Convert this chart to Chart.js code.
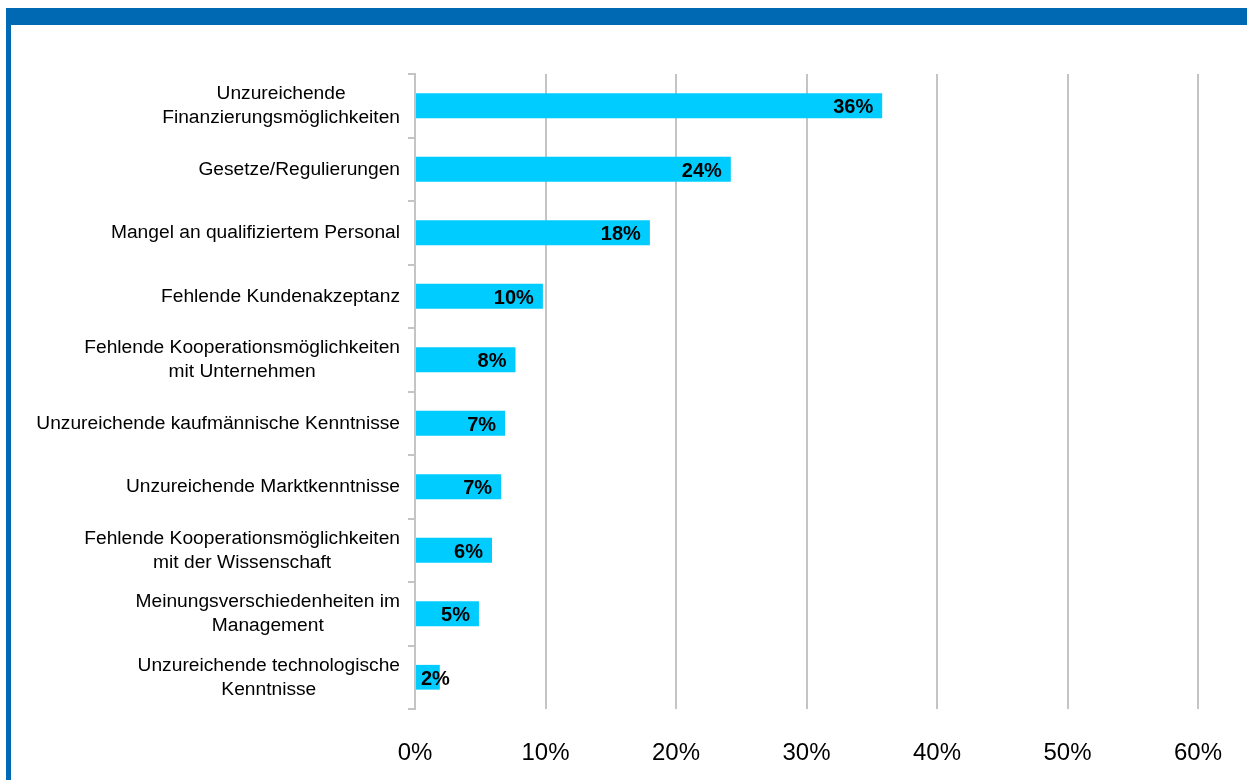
<!DOCTYPE html>
<html>
<head>
<meta charset="utf-8">
<script src="https://cdn.jsdelivr.net/npm/chart.js@4"></script>
<style>
  html, body { margin: 0; padding: 0; background: #fff; }
  #wrap { position: relative; width: 1247px; height: 780px; overflow: hidden; }
  #frameTop { position: absolute; left: 7px; top: 8px; width: 1240px; height: 17px; background: #0069b4; }
  #frameLeft { position: absolute; left: 6px; top: 8px; width: 5px; height: 772px; background: #0069b4; }
  canvas { position: absolute; left: 0; top: 0; }
</style>
</head>
<body>
<div id="wrap">
  <canvas id="grafico" width="1247" height="780"></canvas>
  <div id="frameTop"></div>
  <div id="frameLeft"></div>
</div>
<script>
const kategorien = [
    ['Unzureichende', 'Finanzierungsmöglichkeiten'],
    'Gesetze/Regulierungen',
    'Mangel an qualifiziertem Personal',
    'Fehlende Kundenakzeptanz',
    ['Fehlende Kooperationsmöglichkeiten', 'mit Unternehmen'],
    'Unzureichende kaufmännische Kenntnisse',
    'Unzureichende Marktkenntnisse',
    ['Fehlende Kooperationsmöglichkeiten', 'mit der Wissenschaft'],
    ['Meinungsverschiedenheiten im', 'Management'],
    ['Unzureichende technologische', 'Kenntnisse']
];
const anteile = [35.8, 24.2, 18.0, 9.8, 7.7, 6.9, 6.6, 5.9, 4.9, 1.9];
const achsenWerte = [0, 10, 20, 30, 40, 50, 60];

const GRAU = '#c4c4c4';
const SCHRIFT = '"Liberation Sans", Arial, sans-serif';

// Kategorienamen: mehrzeilig, zentriert, rechtsbündig am Block
const kategorieText = {
    id: 'kategorieText',
    afterDraw(chart) {
        const c = chart.ctx;
        const y = chart.scales.y;
        const rechts = y.right - 7 - 8;
        c.save();
        c.font = '19.2px ' + SCHRIFT;
        c.fillStyle = '#000';
        c.textAlign = 'center';
        c.textBaseline = 'middle';
        kategorien.forEach((lab, i) => {
            const zeilen = Array.isArray(lab) ? lab : [lab];
            const breite = Math.max(...zeilen.map(z => c.measureText(z).width));
            const cx = rechts - breite / 2;
            const mitte = y.getPixelForValue(i);
            const start = mitte - (zeilen.length - 1) * 24 / 2;
            zeilen.forEach((z, k) => c.fillText(z, cx, start + k * 24));
        });
        c.restore();
    }
};

const balkenBeschriftung = {
    id: 'balkenBeschriftung',
    afterDatasetsDraw(chart) {
        const c = chart.ctx;
        const meta = chart.getDatasetMeta(0);
        c.save();
        c.font = 'bold 20px ' + SCHRIFT;
        c.fillStyle = '#000';
        c.textBaseline = 'middle';
        c.textAlign = 'left';
        meta.data.forEach((bar, i) => {
            const text = Math.round(anteile[i]) + '%';
            const w = c.measureText(text).width;
            let x = bar.x - 9 - w;
            if (x < bar.base + 5) x = bar.base + 5;
            c.fillText(text, x, bar.y + 2);
        });
        c.restore();
    }
};

new Chart(document.getElementById('grafico'), {
    type: 'bar',
    data: {
        labels: kategorien,
        datasets: [{
            data: anteile,
            backgroundColor: '#00ccff',
            borderWidth: 0,
            categoryPercentage: 1,
            barPercentage: 0.39
        }]
    },
    options: {
        indexAxis: 'y',
        responsive: false,
        animation: false,
        layout: { padding: { top: 74, right: 49, left: 0, bottom: 0 } },
        plugins: { legend: { display: false }, tooltip: { enabled: false } },
        scales: {
            x: {
                min: 0,
                max: 60,
                afterBuildTicks: scale => {
                    scale.ticks = achsenWerte.map(v => ({ value: v }));
                },
                afterFit: scale => {
                    scale.height = 71;
                    scale.paddingRight = 0;
                    scale.paddingLeft = 0;
                },
                grid: { color: GRAU, lineWidth: 2, drawTicks: false },
                border: { display: false },
                ticks: {
                    padding: 30,
                    color: '#000',
                    font: { family: SCHRIFT, size: 24 },
                    callback: v => v + '%'
                }
            },
            y: {
                afterFit: scale => { scale.width = 415; },
                grid: {
                    offset: true,
                    drawOnChartArea: false,
                    drawTicks: true,
                    tickLength: 7,
                    color: GRAU,
                    lineWidth: 2
                },
                border: { display: true, color: GRAU, width: 2 },
                ticks: { display: false }
            }
        }
    },
    plugins: [balkenBeschriftung, kategorieText]
});
</script>
</body>
</html>
